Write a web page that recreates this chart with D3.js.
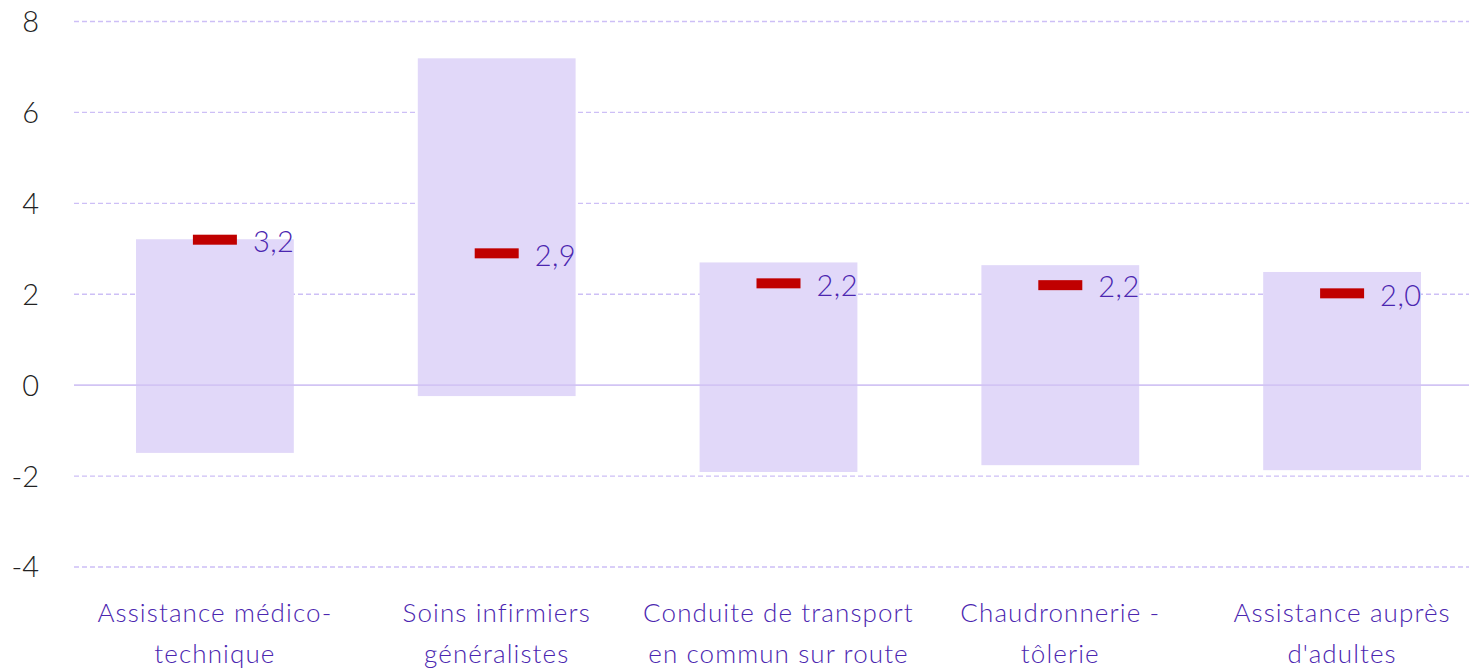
<!DOCTYPE html>
<html>
<head>
<meta charset="utf-8">
<script src="https://cdn.jsdelivr.net/npm/d3@7.9.0/dist/d3.min.js"></script>
<style>
  html, body { margin: 0; padding: 0; background: #fff; overflow: hidden; }
  svg { display: block; font-family: "Lato", "Open Sans", sans-serif; font-weight: 300; }
</style>
</head>
<body>
<svg id="chart" width="1469" height="668"></svg>
<script>
// Categories (two lines each for the axis labels)
const categories = [
  ["Assistance médico-", "technique"],
  ["Soins infirmiers", "généralistes"],
  ["Conduite de transport", "en commun sur route"],
  ["Chaudronnerie -", "tôlerie"],
  ["Assistance auprès", "d'adultes"],
];

// Floating bar range (low / high) and the red marker value
const rangeLow = [-1.49, -0.24, -1.91, -1.76, -1.87];
const rangeHigh = [3.21, 7.19, 2.70, 2.64, 2.49];
const markerValues = [3.2, 2.9, 2.24, 2.2, 2.02];

const yTicks = [-4, -2, 0, 2, 4, 6, 8];

const svg = d3.select("#chart");

const x = d3.scaleBand()
  .domain(d3.range(categories.length))
  .range([74, 1483])
  .paddingInner(0.44)
  .paddingOuter(0.22);

const y = d3.scaleLinear()
  .domain([-4, 8])
  .range([567, 21.5]);

// Grid lines (dashed), zero line solid
svg.append("g")
  .selectAll("line")
  .data(yTicks.filter((d) => d !== 0))
  .join("line")
  .attr("x1", 74)
  .attr("x2", 1483)
  .attr("y1", (d) => y(d))
  .attr("y2", (d) => y(d))
  .attr("stroke", "#cdbff6")
  .attr("stroke-width", 1.4)
  .attr("stroke-dasharray", "5,3");

// Y tick labels
svg.append("g")
  .selectAll("text")
  .data(yTicks)
  .join("text")
  .attr("x", 39)
  .attr("y", (d) => y(d))
  .attr("dy", "0.36em")
  .attr("text-anchor", "end")
  .attr("font-size", 29)
  .attr("fill", "#222")
  .text((d) => d);

// Floating bars
svg.append("g")
  .selectAll("rect")
  .data(categories)
  .join("rect")
  .attr("x", (d, i) => x(i))
  .attr("width", x.bandwidth())
  .attr("y", (d, i) => y(rangeHigh[i]))
  .attr("height", (d, i) => y(rangeLow[i]) - y(rangeHigh[i]))
  .attr("fill", "#e1d8f9");

// Zero line
svg.append("line")
  .attr("x1", 74)
  .attr("x2", 1483)
  .attr("y1", y(0))
  .attr("y2", y(0))
  .attr("stroke", "#d2c4f4")
  .attr("stroke-width", 1.6);

// Red markers
svg.append("g")
  .selectAll("rect")
  .data(markerValues)
  .join("rect")
  .attr("x", (d, i) => x(i) + x.bandwidth() / 2 - 22)
  .attr("y", (d) => y(d) - 5)
  .attr("width", 44)
  .attr("height", 10)
  .attr("fill", "#c00000");

// Marker value labels
svg.append("g")
  .selectAll("text")
  .data(markerValues)
  .join("text")
  .attr("x", (d, i) => x(i) + x.bandwidth() / 2 + 38)
  .attr("y", (d) => y(d))
  .attr("dy", "0.42em")
  .attr("font-size", 29)
  .attr("letter-spacing", 0.5)
  .attr("fill", "#4b26b0")
  .text((d) => d.toFixed(1).replace(".", ","));

// Category labels
const catLabels = svg.append("g")
  .selectAll("text")
  .data(categories)
  .join("text")
  .attr("x", (d, i) => x(i) + x.bandwidth() / 2)
  .attr("y", 622)
  .attr("text-anchor", "middle")
  .attr("font-size", 26)
  .attr("letter-spacing", 1.1)
  .attr("fill", "#4b26b0");

catLabels.selectAll("tspan")
  .data((d) => d)
  .join("tspan")
  .attr("x", function () { return d3.select(this.parentNode).attr("x"); })
  .attr("dy", (d, j) => (j === 0 ? 0 : 41))
  .text((d) => d);
</script>
</body>
</html>
